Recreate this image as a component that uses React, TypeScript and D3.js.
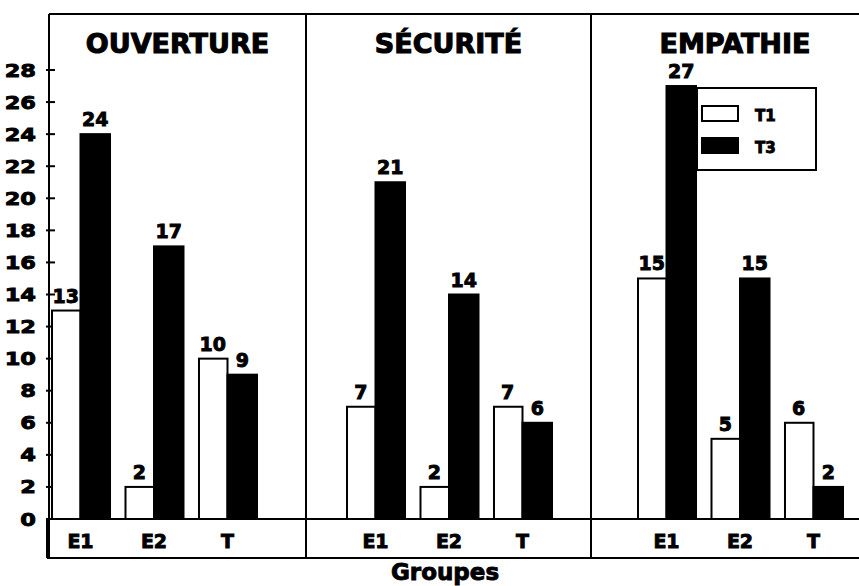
import React, { useEffect, useRef } from "react";
import * as d3 from "d3";

const panels = ["OUVERTURE", "SÉCURITÉ", "EMPATHIE"];
const groups = ["E1", "E2", "T"];
const seriesNames = ["T1", "T3"];
// values per panel, in groups order
const t1Values = [
  [13, 2, 10],
  [7, 2, 7],
  [15, 5, 6],
];
const t3Values = [
  [24, 17, 9],
  [21, 14, 6],
  [27, 15, 2],
];
const yTicks = d3.range(0, 29, 2);

const FONT = "'DejaVu Sans', sans-serif";

export default function App() {
  const ref = useRef<SVGSVGElement>(null);

  useEffect(() => {
    const width = 859;
    const height = 586;
    const panelEdges = [49, 306, 591, 879];
    const groupStarts = [51, 346, 637];
    const groupSpan = 206;
    const top = 14;
    const stripBottom = 558;

    const svg = d3.select(ref.current).attr("width", width).attr("height", height);
    svg.selectAll("*").remove();

    // heavy text, like the scanned original
    const boldText = (sel: any, size: number) =>
      sel.attr("font-family", FONT)
        .attr("font-weight", "bold")
        .attr("font-size", size)
        .attr("stroke", "#000")
        .attr("stroke-width", 0.9)
        .attr("fill", "#000");

    const yScale = d3.scaleLinear().domain([0, 28]).range([519, 70]);
    const y0 = yScale(0);

    // frame
    const frame = svg.append("g").attr("stroke", "#000").attr("stroke-width", 2).attr("fill", "none");
    frame.append("line").attr("x1", panelEdges[0]).attr("x2", width + 2).attr("y1", top).attr("y2", top);
    frame.append("line").attr("x1", panelEdges[0] - 2).attr("x2", width + 2).attr("y1", y0).attr("y2", y0);
    frame.append("line").attr("x1", panelEdges[0] - 2).attr("x2", width + 2).attr("y1", stripBottom).attr("y2", stripBottom);
    frame.append("line").attr("x1", panelEdges[0] - 2).attr("x2", panelEdges[0] - 2).attr("y1", y0).attr("y2", stripBottom);
    panelEdges.slice(0, 3).forEach((x) => {
      frame.append("line").attr("x1", x).attr("x2", x).attr("y1", top).attr("y2", stripBottom);
    });

    // y axis ticks
    const yAxis = svg.append("g");
    yAxis.selectAll("line")
      .data(yTicks)
      .join("line")
      .attr("x1", 46)
      .attr("x2", 55)
      .attr("y1", (d) => yScale(d))
      .attr("y2", (d) => yScale(d))
      .attr("stroke", "#000")
      .attr("stroke-width", 2);
    yAxis.selectAll("text")
      .data(yTicks)
      .join("text")
      .attr("transform", (d) => `translate(36,${yScale(d) + 6.5}) scale(1.25,1)`)
      .attr("text-anchor", "end")
      .call(boldText, 18)
      .text((d) => d);

    panels.forEach((name, p) => {
      const g = svg.append("g");
      const cx = (panelEdges[p] + panelEdges[p + 1]) / 2;

      g.append("text")
        .attr("x", cx)
        .attr("y", 53)
        .attr("text-anchor", "middle")
        .call(boldText, 27)
        .attr("stroke-width", 1.1)
        .text(name);

      const x0 = d3.scaleBand()
        .domain(groups)
        .range([groupStarts[p], groupStarts[p] + groupSpan])
        .paddingInner(0.197);
      const x1 = d3.scaleBand().domain(seriesNames).range([0, x0.bandwidth()]);

      const rows = groups.flatMap((grp, i) => [
        { grp, s: "T1", v: t1Values[p][i] },
        { grp, s: "T3", v: t3Values[p][i] },
      ]);

      g.selectAll("rect.bar")
        .data(rows)
        .join("rect")
        .attr("class", "bar")
        .attr("x", (d) => x0(d.grp)! + x1(d.s)! + (d.s === "T1" ? 1 : 0))
        .attr("width", (d) => x1.bandwidth() - (d.s === "T1" ? 1 : 0))
        .attr("y", (d) => yScale(d.v))
        .attr("height", (d) => y0 - yScale(d.v))
        .attr("fill", (d) => (d.s === "T1" ? "#fff" : "#000"))
        .attr("stroke", "#000")
        .attr("stroke-width", 2);

      g.selectAll("text.val")
        .data(rows)
        .join("text")
        .attr("class", "val")
        .attr("x", (d) => x0(d.grp)! + x1(d.s)! + x1.bandwidth() / 2)
        .attr("y", (d) => yScale(d.v) - 8)
        .attr("text-anchor", "middle")
        .call(boldText, 19)
        .text((d) => d.v);

      g.selectAll("text.cat")
        .data(groups)
        .join("text")
        .attr("class", "cat")
        .attr("x", (d) => x0(d)! + x0.bandwidth() / 2)
        .attr("y", 548)
        .attr("text-anchor", "middle")
        .call(boldText, 19)
        .text((d) => d);
    });

    // legend
    const legend = svg.append("g");
    legend.append("rect")
      .attr("x", 697).attr("y", 88).attr("width", 119).attr("height", 82)
      .attr("fill", "#fff").attr("stroke", "#000").attr("stroke-width", 2);
    seriesNames.forEach((s, i) => {
      legend.append("rect")
        .attr("x", 702).attr("y", 106 + i * 32).attr("width", 36).attr("height", 15)
        .attr("fill", i === 0 ? "#fff" : "#000").attr("stroke", "#000").attr("stroke-width", 2);
      legend.append("text")
        .attr("x", 755).attr("y", 121 + i * 32)
        .call(boldText, 15)
        .text(s);
    });

    // x axis title
    svg.append("text")
      .attr("x", 445)
      .attr("y", 580)
      .attr("text-anchor", "middle")
      .call(boldText, 23)
      .text("Groupes");
  }, []);

  return (
    <svg ref={ref} style={{ position: "absolute", left: 0, top: 0, background: "#fff" }} />
  );
}
